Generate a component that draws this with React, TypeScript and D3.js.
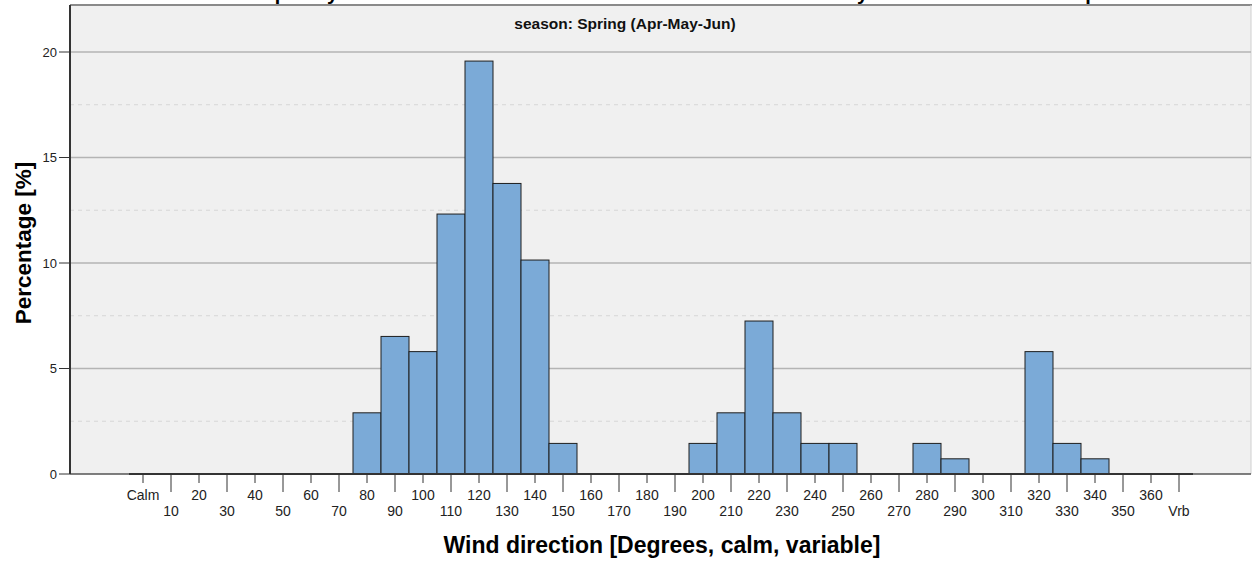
import * as d3 from "d3";

const W = 1252;
const H = 561;

const CATEGORIES = [
  "Calm", "10", "20", "30", "40", "50", "60", "70", "80", "90",
  "100", "110", "120", "130", "140", "150", "160", "170", "180", "190",
  "200", "210", "220", "230", "240", "250", "260", "270", "280", "290",
  "300", "310", "320", "330", "340", "350", "360", "Vrb",
];
// percentage of observations per direction bin (Spring)
const PERCENT = [
  0, 0, 0, 0, 0, 0, 0, 0, 2.9, 6.52,
  5.8, 12.32, 19.57, 13.77, 10.14, 1.45, 0, 0, 0, 0,
  1.45, 2.9, 7.25, 2.9, 1.45, 1.45, 0, 0, 1.45, 0.72,
  0, 0, 5.8, 1.45, 0.72, 0, 0, 0,
];
const Y_MAJOR = [0, 5, 10, 15, 20];
const Y_MINOR = [2.5, 7.5, 12.5, 17.5];

const TITLE =
  "Frequency of wind direction at the weather station in all the hourly data from the main Airport";
const SUBTITLE = "season: Spring (Apr-May-Jun)";
const X_TITLE = "Wind direction [Degrees, calm, variable]";
const Y_TITLE = "Percentage [%]";

const FONT = "'Liberation Sans', Arial, sans-serif";

const PLOT = { left: 70, top: 5, right: 1251, bottom: 474 };

export default function App() {
  const x = d3.scaleBand<string>().domain(CATEGORIES).range([129, 1193]).padding(0);
  const y = d3.scaleLinear().domain([0, 20]).range([PLOT.bottom, 52]);
  const bw = x.bandwidth();

  return (
    <svg
      width={W}
      height={H}
      style={{ position: "absolute", left: 0, top: 0, background: "#fff" }}
      fontFamily={FONT}
    >
      {/* chart title, cut off at the top like the original */}
      <text x={237} y={0} fontSize={20} fontWeight="bold" fill="#000">
        {TITLE}
      </text>

      {/* plot area */}
      <rect
        x={PLOT.left}
        y={PLOT.top}
        width={PLOT.right - PLOT.left}
        height={PLOT.bottom - PLOT.top}
        fill="#f0f0f0"
      />
      <line x1={PLOT.left} x2={W} y1={PLOT.top} y2={PLOT.top} stroke="#8a8a8a" strokeWidth={2} />
      <line x1={PLOT.right} x2={PLOT.right} y1={PLOT.top} y2={PLOT.bottom} stroke="#d0d0d0" />

      {Y_MINOR.map((v) => (
        <line
          key={v}
          x1={PLOT.left}
          x2={PLOT.right}
          y1={y(v)}
          y2={y(v)}
          stroke="#d6d6d6"
          strokeDasharray="4,4"
        />
      ))}
      {Y_MAJOR.filter((v) => v > 0).map((v) => (
        <line
          key={v}
          x1={PLOT.left}
          x2={PLOT.right}
          y1={y(v)}
          y2={y(v)}
          stroke="#b4b4b4"
          strokeWidth={1.5}
        />
      ))}

      <text x={625} y={29} textAnchor="middle" fontSize={15.5} fontWeight="bold" fill="#111">
        {SUBTITLE}
      </text>

      {/* bars */}
      {CATEGORIES.map((c, i) =>
        PERCENT[i] > 0 ? (
          <rect
            key={c}
            x={x(c)!}
            y={y(PERCENT[i])}
            width={bw}
            height={y(0) - y(PERCENT[i])}
            fill="#7baad7"
            stroke="#1e1e1e"
            strokeWidth={1}
          />
        ) : null,
      )}

      {/* axes */}
      <line x1={PLOT.left} x2={PLOT.right} y1={PLOT.bottom} y2={PLOT.bottom} stroke="#555" strokeWidth={1.5} />
      <line x1={129} x2={1193} y1={PLOT.bottom} y2={PLOT.bottom} stroke="#333" strokeWidth={2} />
      <line x1={PLOT.left} x2={PLOT.left} y1={PLOT.top} y2={PLOT.bottom} stroke="#333" strokeWidth={2} />

      {Y_MAJOR.map((v) => (
        <g key={v}>
          <line x1={59} x2={PLOT.left} y1={y(v)} y2={y(v)} stroke="#333" />
          <text x={57} y={y(v) + 4.5} textAnchor="end" fontSize={13} fill="#222">
            {v}
          </text>
        </g>
      ))}

      {CATEGORIES.map((c, i) => {
        const cx = x(c)! + bw / 2;
        const long = i % 2 === 1;
        return (
          <g key={c}>
            <line x1={cx} x2={cx} y1={PLOT.bottom} y2={PLOT.bottom + (long ? 18 : 9)} stroke="#333" />
            <text x={cx} y={long ? 516 : 500} textAnchor="middle" fontSize={14} fill="#222">
              {c}
            </text>
          </g>
        );
      })}

      <text x={662} y={553} textAnchor="middle" fontSize={23} fontWeight="bold" fill="#000">
        {X_TITLE}
      </text>
      <text
        transform="translate(31,243) rotate(-90)"
        textAnchor="middle"
        fontSize={22.5}
        fontWeight="bold"
        fill="#000"
      >
        {Y_TITLE}
      </text>
    </svg>
  );
}
